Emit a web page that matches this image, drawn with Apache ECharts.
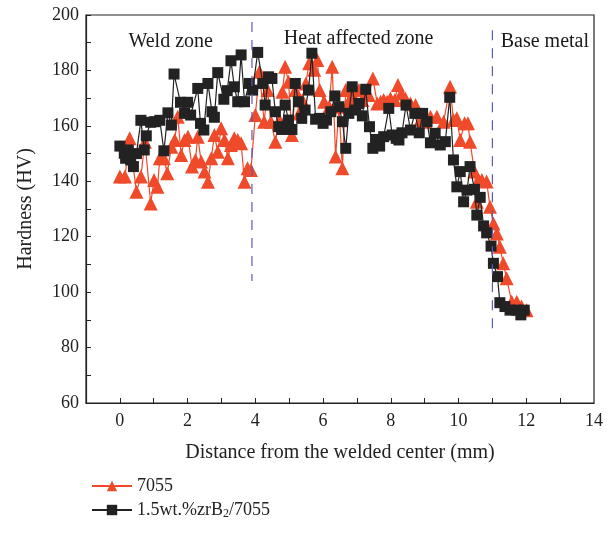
<!DOCTYPE html>
<html>
<head>
<meta charset="utf-8">
<script src="https://cdn.jsdelivr.net/npm/echarts@6/dist/echarts.min.js"></script>
<style>
  html, body { margin: 0; padding: 0; background: #fff; }
  #chart { width: 610px; height: 546px; }
</style>
</head>
<body>
<div id="chart"></div>
<script>
// 7055 (red triangles)
const redX = [0, 0.15, 0.29, 0.49, 0.62, 0.74, 0.91, 1.01, 1.11, 1.18, 1.3, 1.4, 1.52, 1.62, 1.71, 1.81, 1.91, 2.01, 2.13, 2.23, 2.3, 2.4, 2.5, 2.6, 2.7, 2.79, 2.89, 2.99, 3.09, 3.19, 3.28, 3.38, 3.48, 3.58, 3.68, 3.77, 3.87, 4.0, 4.12, 4.26, 4.36, 4.46, 4.59, 4.71, 4.8, 4.88, 4.98, 5.08, 5.18, 5.29, 5.39, 5.49, 5.59, 5.74, 5.83, 5.9, 6.03, 6.18, 6.27, 6.37, 6.47, 6.57, 6.67, 6.76, 6.86, 6.96, 7.06, 7.16, 7.26, 7.35, 7.47, 7.6, 7.7, 7.79, 7.89, 7.99, 8.12, 8.21, 8.31, 8.43, 8.58, 8.73, 8.87, 9.02, 9.17, 9.36, 9.56, 9.75, 9.85, 9.95, 10.05, 10.18, 10.28, 10.34, 10.47, 10.54, 10.59, 10.69, 10.83, 10.93, 11.03, 11.13, 11.22, 11.32, 11.42, 11.57, 11.72, 11.86, 12.01];
const redY = [141.7, 141.7, 155.5, 136.2, 141.7, 154.3, 132, 140.5, 138, 148.3, 148.3, 142.9, 152.5, 154.9, 163.3, 149.5, 154.9, 156.1, 145.3, 147.7, 156.1, 147.1, 143.5, 139.8, 148.3, 156.7, 150.7, 159.1, 154.9, 148.3, 153.1, 155.5, 154.9, 153.7, 139.8, 144.7, 144.1, 163.9, 179.5, 161.5, 172.9, 161.5, 154.3, 162.1, 172.3, 181.3, 175.9, 156.7, 172.9, 164.5, 169.3, 175.3, 182.6, 180.2, 183.8, 172.9, 168.7, 166.9, 181.3, 148.9, 166.9, 144.7, 172.9, 168.7, 171.1, 168.7, 172.9, 169.3, 171.1, 171.1, 177.1, 168.1, 168.7, 169.3, 168.7, 169.9, 169.3, 174.7, 171.7, 169.9, 168.1, 167.5, 162.1, 161.5, 163.3, 163.3, 161.5, 174.1, 162.1, 162.7, 154.9, 160.9, 160.9, 154.3, 143.5, 132.6, 140.5, 140.5, 139.9, 130.8, 124.8, 121.2, 116.4, 110.4, 105, 96.5, 96.5, 94.8, 93.5];

// 1.5wt.%zrB2/7055 (black squares)
const blackX = [0, 0.13, 0.17, 0.25, 0.32, 0.4, 0.49, 0.62, 0.72, 0.78, 0.91, 1.03, 1.18, 1.3, 1.42, 1.52, 1.6, 1.79, 1.91, 2.0, 2.09, 2.3, 2.38, 2.48, 2.6, 2.72, 2.79, 2.89, 3.07, 3.17, 3.28, 3.38, 3.48, 3.58, 3.68, 3.82, 3.92, 4.07, 4.22, 4.29, 4.39, 4.49, 4.59, 4.69, 4.78, 4.88, 4.98, 5.08, 5.18, 5.27, 5.37, 5.47, 5.57, 5.67, 5.78, 5.9, 6.0, 6.1, 6.23, 6.35, 6.47, 6.57, 6.67, 6.76, 6.86, 6.96, 7.06, 7.16, 7.26, 7.37, 7.47, 7.55, 7.67, 7.79, 7.94, 8.04, 8.16, 8.24, 8.33, 8.45, 8.58, 8.71, 8.84, 8.94, 9.07, 9.17, 9.31, 9.46, 9.61, 9.74, 9.85, 9.95, 10.05, 10.15, 10.25, 10.34, 10.47, 10.54, 10.64, 10.74, 10.83, 10.96, 11.03, 11.15, 11.22, 11.37, 11.52, 11.72, 11.84, 11.94];
const blackY = [152.7, 150.1, 148.3, 151.3, 147.7, 145.3, 150, 162, 151.3, 156.4, 161.3, 161.5, 162, 151, 164.7, 160.3, 178.7, 168.5, 164.5, 168.5, 163.9, 173.5, 160.9, 158.5, 175.3, 165.1, 163.1, 179.2, 169.6, 172.7, 183.5, 174.1, 168.7, 185.6, 168.7, 175.3, 172.9, 186.5, 175.3, 167.5, 177.7, 177.1, 165.1, 159.7, 158.7, 167.5, 162.1, 158.7, 175.3, 168.7, 162.7, 165.7, 172.9, 186.2, 162.4, 162.7, 160.9, 162.1, 165.1, 170.8, 166.9, 161.5, 151.9, 164.5, 174.1, 165.7, 168.1, 163.6, 173.2, 159.7, 151.9, 155.1, 152.7, 156.1, 166.3, 156.7, 155.5, 154.9, 157.5, 167.5, 158.5, 164.5, 157.5, 164.5, 161.5, 153.9, 157.3, 153.1, 154.3, 170.3, 147.7, 138, 143.5, 132.6, 136.8, 145.3, 137.1, 127.8, 134.2, 123.9, 121.4, 116.6, 110.4, 105.6, 96.2, 94.8, 93.5, 93.5, 91.8, 93.5];

// zone boundaries (dashed) and zone labels
const boundaryA = [[3.9, 197.5], [3.9, 104]];
const boundaryB = [[11.0, 194.5], [11.0, 84.5]];
const zoneNames = ['Weld zone', 'Heat affected zone', 'Base metal'];
const zoneX = [1.5, 7.05, 12.55];
const zoneY = [190.3, 191.3, 190.3];

const xTicks = [0, 1, 2, 3, 4, 5, 6, 7, 8, 9, 10, 11, 12, 13];
const xLabels = [0, 2, 4, 6, 8, 10, 12, 14];

const FONT = 'Liberation Serif';
const RED = '#ef4a2a';
const BLACK = '#222222';
const DASH = '#5a5ab8';

const chart = echarts.init(document.getElementById('chart'));

const zip = (xs, ys) => xs.map((x, i) => [x, ys[i]]);

const option = {
  animation: false,
  textStyle: { fontFamily: FONT },
  grid: { left: 86, right: 16, top: 15, bottom: 143, show: true, borderColor: BLACK, borderWidth: 1.2 },
  legend: {
    orient: 'vertical',
    left: 86,
    top: 472,
    itemWidth: 40,
    itemHeight: 13,
    itemGap: 6,
    data: ['7055', '1.5wt.%zrB2/7055'],
    textStyle: {
      fontFamily: FONT, fontSize: 18, color: '#222',
      rich: { sub: { fontFamily: FONT, fontSize: 12, verticalAlign: 'bottom', padding: [7, 0, 0, 0], color: '#222' } }
    },
    formatter: (name) => name.replace('B2/', 'B{sub|2}/')
  },
  xAxis: {
    type: 'value',
    min: -1,
    max: 14,
    name: 'Distance from the welded center (mm)',
    nameLocation: 'middle',
    nameGap: 40,
    nameTextStyle: { fontFamily: FONT, fontSize: 20, color: '#222' },
    axisLine: { onZero: false, lineStyle: { color: BLACK, width: 1.2 } },
    axisTick: { inside: true, length: 5, customValues: xTicks, lineStyle: { color: BLACK } },
    axisLabel: { customValues: xLabels, fontFamily: FONT, fontSize: 18, color: '#222', margin: 9 },
    splitLine: { show: false }
  },
  yAxis: {
    type: 'value',
    min: 60,
    max: 200,
    interval: 20,
    name: 'Hardness (HV)',
    nameLocation: 'middle',
    nameGap: 50,
    nameTextStyle: { fontFamily: FONT, fontSize: 20, color: '#222' },
    axisLine: { show: true, onZero: false, lineStyle: { color: BLACK, width: 1.2 } },
    axisTick: { inside: true, length: 5, lineStyle: { color: BLACK } },
    minorTick: { show: true, splitNumber: 2, length: 5, lineStyle: { color: BLACK } },
    axisLabel: { fontFamily: FONT, fontSize: 18, color: '#222', margin: 7 },
    splitLine: { show: false }
  },
  series: [
    {
      name: '7055',
      type: 'line',
      data: zip(redX, redY),
      symbol: 'triangle',
      symbolSize: 14,
      color: RED,
      lineStyle: { color: RED, width: 1.2 },
      itemStyle: { color: RED },
      z: 2
    },
    {
      name: '1.5wt.%zrB2/7055',
      type: 'line',
      data: zip(blackX, blackY),
      symbol: 'rect',
      symbolSize: 11,
      color: BLACK,
      lineStyle: { color: BLACK, width: 1.2 },
      itemStyle: { color: BLACK },
      z: 3
    },
    {
      type: 'line',
      data: boundaryA,
      symbol: 'none',
      lineStyle: { color: DASH, width: 1.2, type: [10, 8] },
      silent: true,
      z: 4
    },
    {
      type: 'line',
      data: boundaryB,
      symbol: 'none',
      lineStyle: { color: DASH, width: 1.2, type: [10, 8] },
      silent: true,
      z: 4
    },
    {
      type: 'scatter',
      symbolSize: 1,
      silent: true,
      itemStyle: { opacity: 1, color: 'rgba(0,0,0,0)' },
      data: zoneNames.map((n, i) => ({ value: [zoneX[i], zoneY[i]], name: n })),
      label: {
        show: true,
        position: 'inside',
        formatter: (p) => p.name,
        fontFamily: FONT,
        fontSize: 20,
        color: '#1a1a1a'
      },
      z: 5
    }
  ]
};

chart.setOption(option);
</script>
</body>
</html>
